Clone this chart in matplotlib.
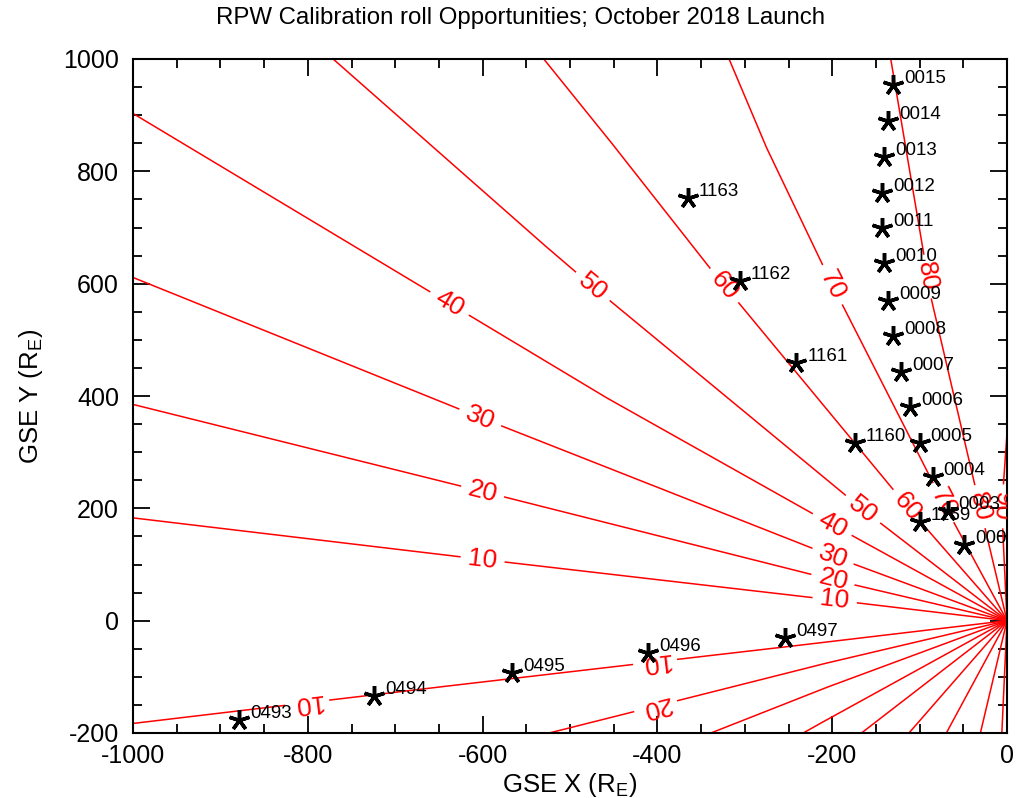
import numpy as np
import matplotlib
matplotlib.use('Agg')
import matplotlib.pyplot as plt
from matplotlib.ticker import MultipleLocator
from matplotlib.transforms import offset_copy

plt.rcParams['font.family'] = ['Liberation Sans', 'DejaVu Sans']
plt.rcParams['axes.unicode_minus'] = False

# contour lines (upper half, mirrored for y<0), vertices
contour_levels = [10, 20, 30, 40, 50, 60, 70, 80, 90]
contour_x = [
    [0, -200, -600, -1000],
    [0, -200, -600, -1000],
    [0, -200, -600, -1000],
    [0, -200, -454, -1000],
    [0, -165, -474, -523, -771],
    [0, -114, -340, -446, -530],
    [0, -73, -200, -274, -318],
    [0, -31, -86, -133],
    [0, -6, 12],
]
contour_y = [
    [0, 37, 109, 183],
    [0, 73, 230, 385],
    [0, 115, 360, 611],
    [0, 171, 393, 903],
    [0, 198, 595, 660, 1000],
    [0, 203, 628, 838, 1000],
    [0, 210, 598, 838, 1000],
    [0, 203, 568, 1000],
    [0, 200, 600],
]

# where the contour labels sit (level, x, y)
label_level = [10, 20, 30, 40, 50, 60, 70, 80,
               10, 20, 30, 40, 50, 60, 70, 80, 90,
               10, 10, 20]
label_x = [-600, -600, -603, -640, -474, -325, -200, -92,
           -197, -199, -199, -200, -165, -114, -73, -31, -5,
           -801, -403, -403]
label_y = [109, 230, 361, 560, 595, 595, 598, 612,
           37, 73, 114, 171, 198, 203, 210, 203, 203,
           -146, -73, -144]

# calibration roll opportunities
star_labels = ['0015', '0014', '0013', '0012', '0011', '0010', '0009', '0008',
               '0007', '0006', '0005', '0004', '0003', '0002',
               '1159', '1160', '1161', '1162', '1163',
               '0493', '0494', '0495', '0496', '0497']
star_x = [-130, -136, -141, -143, -143, -141, -136, -130,
          -121, -111, -100, -85, -68, -49,
          -100, -174, -241, -306, -365,
          -879, -724, -566, -411, -254]
star_y = [954, 890, 826, 762, 700, 636, 570, 507,
          442, 381, 317, 256, 196, 134,
          175, 317, 459, 605, 753,
          -176, -134, -93, -57, -30]

fig = plt.figure(figsize=(10.17, 7.98), dpi=100)
ax = fig.add_axes([133 / 1017, 1 - 733 / 798, 874 / 1017, 674 / 798])
ax.set_xlim(-1000, 0)
ax.set_ylim(-200, 1000)

lab_fs = 19
lab_px = lab_fs * fig.dpi / 72


def draw_contour(xs, ys, level, sign):
    pts = ax.transData.transform(np.column_stack([xs, np.array(ys) * sign]))
    dense = []
    for i in range(len(pts) - 1):
        t = np.linspace(0, 1, 600, endpoint=False)[:, None]
        dense.append(pts[i] + (pts[i + 1] - pts[i]) * t)
    dense.append(pts[-1:])
    dense = np.vstack(dense)
    s = np.concatenate([[0], np.cumsum(np.hypot(*np.diff(dense, axis=0).T))])
    keep = np.ones(len(dense), bool)
    for lv, lx, ly in zip(label_level, label_x, label_y):
        if lv != level or np.sign(ly) != sign:
            continue
        p = ax.transData.transform((lx, ly))
        i = np.argmin(np.hypot(*(dense - p).T))
        txt = str(lv)
        gap = len(txt) * 0.556 * lab_px + 16
        keep &= np.abs(s - s[i]) > gap / 2
        j0, j1 = max(i - 5, 0), min(i + 5, len(dense) - 1)
        d = dense[j1] - dense[j0]
        if sign > 0:
            d = -d
        rot = np.degrees(np.arctan2(d[1], d[0]))
        dx, dy = ax.transData.inverted().transform(dense[i])
        ax.text(dx, dy, txt, color='red', fontsize=lab_fs, rotation=rot,
                rotation_mode='anchor', ha='center', va='center', clip_on=True)
    # split into runs
    idx = np.where(keep)[0]
    runs = np.split(idx, np.where(np.diff(idx) > 1)[0] + 1)
    for r in runs:
        if len(r) < 2:
            continue
        seg = ax.transData.inverted().transform(dense[r])
        ax.plot(seg[:, 0], seg[:, 1], color='red', lw=1.1)


for xs, ys, lv in zip(contour_x, contour_y, contour_levels):
    draw_contour(xs, ys, lv, 1)
    draw_contour(xs, ys, lv, -1)

ax.plot(star_x, star_y, linestyle='none', marker=(5, 2, 0), ms=15, mew=2.5,
        color='black', zorder=5)
trans = offset_copy(ax.transData, fig=fig, x=11, y=2, units='dots')
for lbl, x, y in zip(star_labels, star_x, star_y):
    ax.text(x, y, lbl, transform=trans, fontsize=13.5, ha='left', va='baseline',
            clip_on=True, zorder=6)

ax.xaxis.set_major_locator(MultipleLocator(200))
ax.xaxis.set_minor_locator(MultipleLocator(50))
ax.yaxis.set_major_locator(MultipleLocator(200))
ax.yaxis.set_minor_locator(MultipleLocator(50))
ax.tick_params(which='both', direction='in', top=True, right=True, width=1.3,
               labelsize=18)
ax.tick_params(which='major', length=12.5)
ax.tick_params(which='minor', length=6.5)
ax.tick_params(axis='x', pad=8)
ax.tick_params(axis='y', pad=10)
for sp in ax.spines.values():
    sp.set_linewidth(1.5)

ax.set_xlabel('GSE X (R$_\\mathregular{E}$)', fontsize=18.5, labelpad=2)
ax.set_ylabel('GSE Y (R$_\\mathregular{E}$)', fontsize=18.5, labelpad=13)
fig.text(520 / 1017, 1 - 18 / 798,
         'RPW Calibration roll Opportunities; October 2018 Launch',
         ha='center', va='center', fontsize=17.3)

fig.savefig('out.png', dpi=100)
